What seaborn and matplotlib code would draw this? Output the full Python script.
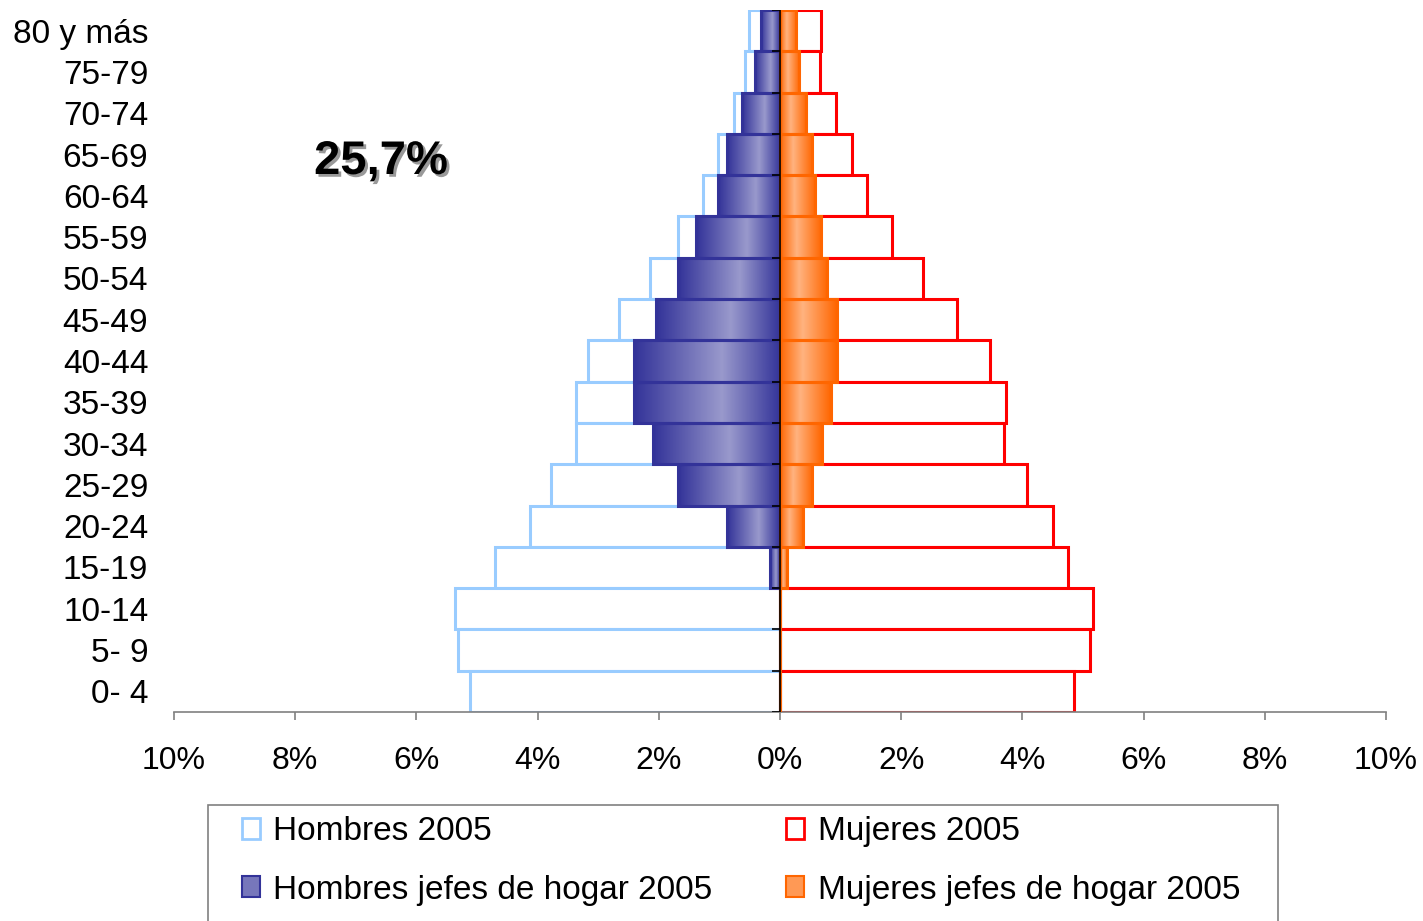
import numpy as np
import seaborn as sns
import matplotlib.pyplot as plt
import matplotlib.patheffects as pe
from matplotlib.colors import LinearSegmentedColormap
from matplotlib.patches import Rectangle, Patch

# datos (% de la población total), de arriba hacia abajo
edades = ["80 y más", "75-79", "70-74", "65-69", "60-64", "55-59", "50-54", "45-49",
          "40-44", "35-39", "30-34", "25-29", "20-24", "15-19", "10-14", "5- 9", "0- 4"]
hombres = [0.51, 0.57, 0.76, 1.02, 1.27, 1.68, 2.14, 2.65, 3.17, 3.37, 3.37, 3.78,
           4.13, 4.70, 5.36, 5.31, 5.11]
mujeres = [0.67, 0.66, 0.92, 1.18, 1.44, 1.85, 2.36, 2.92, 3.47, 3.73, 3.69, 4.08,
           4.50, 4.75, 5.16, 5.11, 4.85]
hombres_jefes = [0.31, 0.42, 0.62, 0.88, 1.03, 1.39, 1.69, 2.05, 2.41, 2.41, 2.10, 1.68,
                 0.87, 0.16, 0.0, 0.0, 0.0]
mujeres_jefes = [0.27, 0.32, 0.43, 0.53, 0.58, 0.68, 0.78, 0.94, 0.94, 0.84, 0.69, 0.53,
                 0.38, 0.12, 0.0, 0.0, 0.0]
xticks = [-10, -8, -6, -4, -2, 0, 2, 4, 6, 8, 10]

sns.set_style("white")
plt.rcParams['font.family'] = ['Liberation Sans', 'DejaVu Sans']

W, H = 1423, 921
fig = plt.figure(figsize=(W / 100, H / 100), dpi=100)
ax = fig.add_axes([174 / W, 1 - 712 / H, (1386 - 174) / W, (712 - 10) / H])


def barras(valores, cara, borde, z):
    n = len(ax.patches)
    sns.barplot(x=valores, y=edades, orient="h", color=cara, edgecolor=borde,
                linewidth=2.2, width=1, saturation=1, errorbar=None, ax=ax)
    nuevas = ax.patches[n:]
    for p in nuevas:
        p.set_zorder(z)
    return nuevas


def gradiente(parches, oscuro, claro, centro):
    cmap = LinearSegmentedColormap.from_list("g", [(0, oscuro), (centro, claro), (1, oscuro)])
    grad = np.linspace(0, 1, 256).reshape(1, -1)
    for p in parches:
        x0, x1 = sorted([p.get_x(), p.get_x() + p.get_width()])
        if x1 - x0 <= 0:
            continue
        y0, y1 = p.get_y(), p.get_y() + p.get_height()
        im = ax.imshow(grad, cmap=cmap, aspect="auto", extent=(x0, x1, y1, y0),
                       zorder=p.get_zorder() - 0.05, interpolation="bilinear")
        im.set_clip_path(p)
        p.set_facecolor("none")


barras([-v for v in hombres], "white", "#99CCFF", 1)
barras(mujeres, "white", "#FF0000", 1)
hj = barras([-v for v in hombres_jefes], "#7777BB", "#333399", 3)
mj = barras(mujeres_jefes, "#FF9955", "#FF6600", 3)
gradiente(hj, "#333399", "#9999CC", 0.6)
gradiente(mj, "#FF6600", "#FFB380", 0.4)

# eje central con marcas en los límites de cada grupo
ax.axvline(0, color="black", lw=1.2, zorder=4)
ax.hlines(np.arange(-0.5, len(edades)), -0.13, 0, color="black", lw=1.2, zorder=4)

ax.set_xlim(-10, 10)
ax.set_ylim(len(edades) - 0.5, -0.5)
ax.set_xticks(xticks)
ax.set_xticklabels([f"{abs(v)}%" for v in xticks])
ax.set_xlabel("")
ax.set_ylabel("")
for s in ["top", "right", "left"]:
    ax.spines[s].set_visible(False)
ax.spines["bottom"].set_color("#808080")
ax.spines["bottom"].set_linewidth(1.2)
ax.tick_params(axis="x", bottom=True, direction="out", length=6, width=1.2, color="#808080",
               labelsize=23, pad=18.5, labelcolor="black")
ax.tick_params(axis="y", left=False, length=0, labelsize=24, pad=18.5, labelcolor="black")
ax.grid(False)

fig.text(381 / W, 1 - 162 / H, "25,7%", fontsize=34, fontweight="bold", color="black",
         ha="center", va="center",
         path_effects=[pe.withSimplePatchShadow(offset=(2, -2), shadow_rgbFace="#999999", alpha=1)])

# leyenda
fig.add_artist(Rectangle((208 / W, -0.02), 1070 / W, 0.02 + (921 - 805) / H,
                         transform=fig.transFigure, fill=False, edgecolor="#808080", lw=1.2))
handles = [Patch(facecolor="white", edgecolor="#99CCFF", lw=2),
           Patch(facecolor="#7777BB", edgecolor="#333399", lw=1.5),
           Patch(facecolor="white", edgecolor="#FF0000", lw=2),
           Patch(facecolor="#FF9955", edgecolor="#FF6600", lw=1.5)]
labels = ["Hombres 2005", "Hombres jefes de hogar 2005",
          "Mujeres 2005", "Mujeres jefes de hogar 2005"]
fig.legend(handles=handles, labels=labels, ncol=2, loc="upper left",
           bbox_to_anchor=(242 / W, 1 - 816 / H, (1240 - 242) / W, 0), mode="expand",
           frameon=False, fontsize=24, labelcolor="black", handlelength=0.54, handleheight=0.6,
           handletextpad=0.4, labelspacing=0.83, borderpad=0, borderaxespad=0)

fig.savefig("out.png", dpi=100)
